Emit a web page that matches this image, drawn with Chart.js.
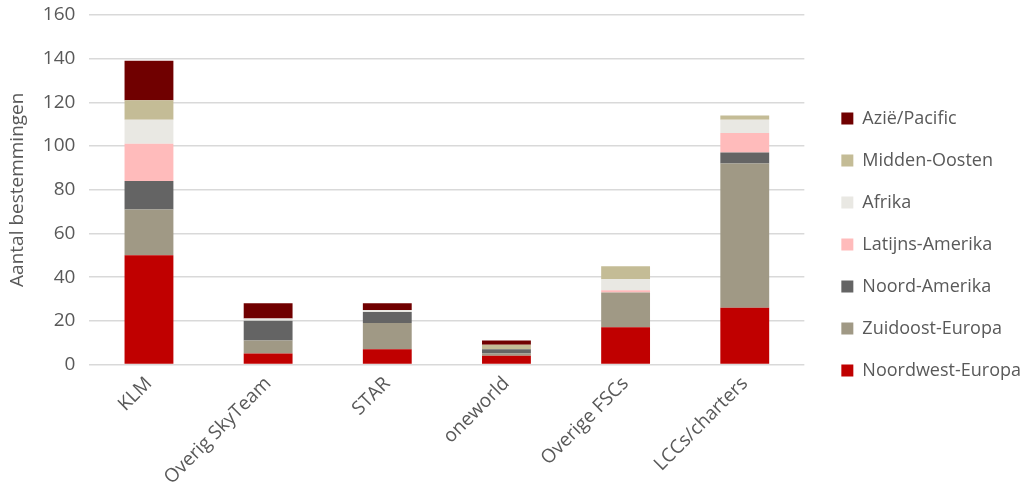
<!DOCTYPE html>
<html lang="nl">
<head>
  <meta charset="UTF-8" />
  <title>Bestemmingen per alliantie</title>
  <script src="https://cdn.jsdelivr.net/npm/chart.js"></script>
  <style>
    html, body { margin: 0; padding: 0; background: #fff; }
    #wrap { width: 1025px; height: 489px; }
  </style>
</head>
<body>
  <div id="wrap"><canvas id="chart"></canvas></div>
  <script>
    const categories = ['KLM', 'Overig SkyTeam', 'STAR', 'oneworld', 'Overige FSCs', 'LCCs/charters'];
    const yTicks = [0, 20, 40, 60, 80, 100, 120, 140, 160];

    const noordwestEuropa = [50, 5, 7, 4, 17, 26];
    const zuidoostEuropa  = [21, 6, 12, 1, 16, 66];
    const noordAmerika    = [13, 9, 5, 2, 0, 5];
    const latijnsAmerika  = [17, 0, 0, 0, 1, 9];
    const afrika          = [11, 1, 1, 0, 5, 6];
    const middenOosten    = [9, 0, 0, 2, 6, 2];
    const aziePacific     = [18, 7, 3, 2, 0, 0];

    const series = [
      { label: 'Noordwest-Europa', data: noordwestEuropa, color: '#c00000' },
      { label: 'Zuidoost-Europa', data: zuidoostEuropa, color: '#a09985' },
      { label: 'Noord-Amerika', data: noordAmerika, color: '#646464' },
      { label: 'Latijns-Amerika', data: latijnsAmerika, color: '#ffbbbb' },
      { label: 'Afrika', data: afrika, color: '#e9e8e3' },
      { label: 'Midden-Oosten', data: middenOosten, color: '#c4bc96' },
      { label: 'Azië/Pacific', data: aziePacific, color: '#700000' }
    ];

    // a bit more room between plot and legend, legend pushed to the right edge
    const legendGap = 7;
    const legendShift = 13;
    const legendSpacer = {
      id: 'legendSpacer',
      beforeInit(chart) {
        const fit = chart.legend.fit;
        chart.legend.fit = function () {
          fit.call(this);
          this.width += legendGap;
        };
      },
      afterLayout(chart) {
        chart.legend.left += legendShift;
        chart.legend.right += legendShift;
      }
    };

    Chart.defaults.font.family = '"Open Sans", sans-serif';
    Chart.defaults.font.size = 19;
    Chart.defaults.color = '#595959';

    new Chart(document.getElementById('chart'), {
      type: 'bar',
      data: {
        labels: categories,
        datasets: series.map(s => ({
          label: s.label,
          data: s.data,
          backgroundColor: s.color,
          borderWidth: 0,
          categoryPercentage: 1,
          barPercentage: 0.41
        }))
      },
      options: {
        responsive: true,
        maintainAspectRatio: false,
        animation: false,
        layout: { autoPadding: false, padding: { left: 6, right: 0, top: 0, bottom: 0 } },
        plugins: {
          tooltip: { enabled: false },
          legend: {
            position: 'right',
            reverse: true,
            labels: {
              boxWidth: 12,
              boxHeight: 12,
              padding: 24,
              font: { size: 18 },
              color: '#595959'
            }
          }
        },
        scales: {
          x: {
            stacked: true,
            grid: { display: false },
            border: { display: false },
            ticks: { maxRotation: 45, minRotation: 45, padding: 0 }
          },
          y: {
            stacked: true,
            min: 0,
            max: 160,
            afterBuildTicks: axis => { axis.ticks = yTicks.map(v => ({ value: v })); },
            grid: { color: '#d9d9d9', lineWidth: 1.5, drawTicks: false },
            border: { display: false },
            // tiny lineHeight so the top label does not push the plot down
            ticks: { padding: 14, font: { size: 19, lineHeight: 0.1 } },
            title: { display: true, text: 'Aantal bestemmingen', padding: 0 }
          }
        }
      },
      plugins: [legendSpacer]
    });
  </script>
</body>
</html>
